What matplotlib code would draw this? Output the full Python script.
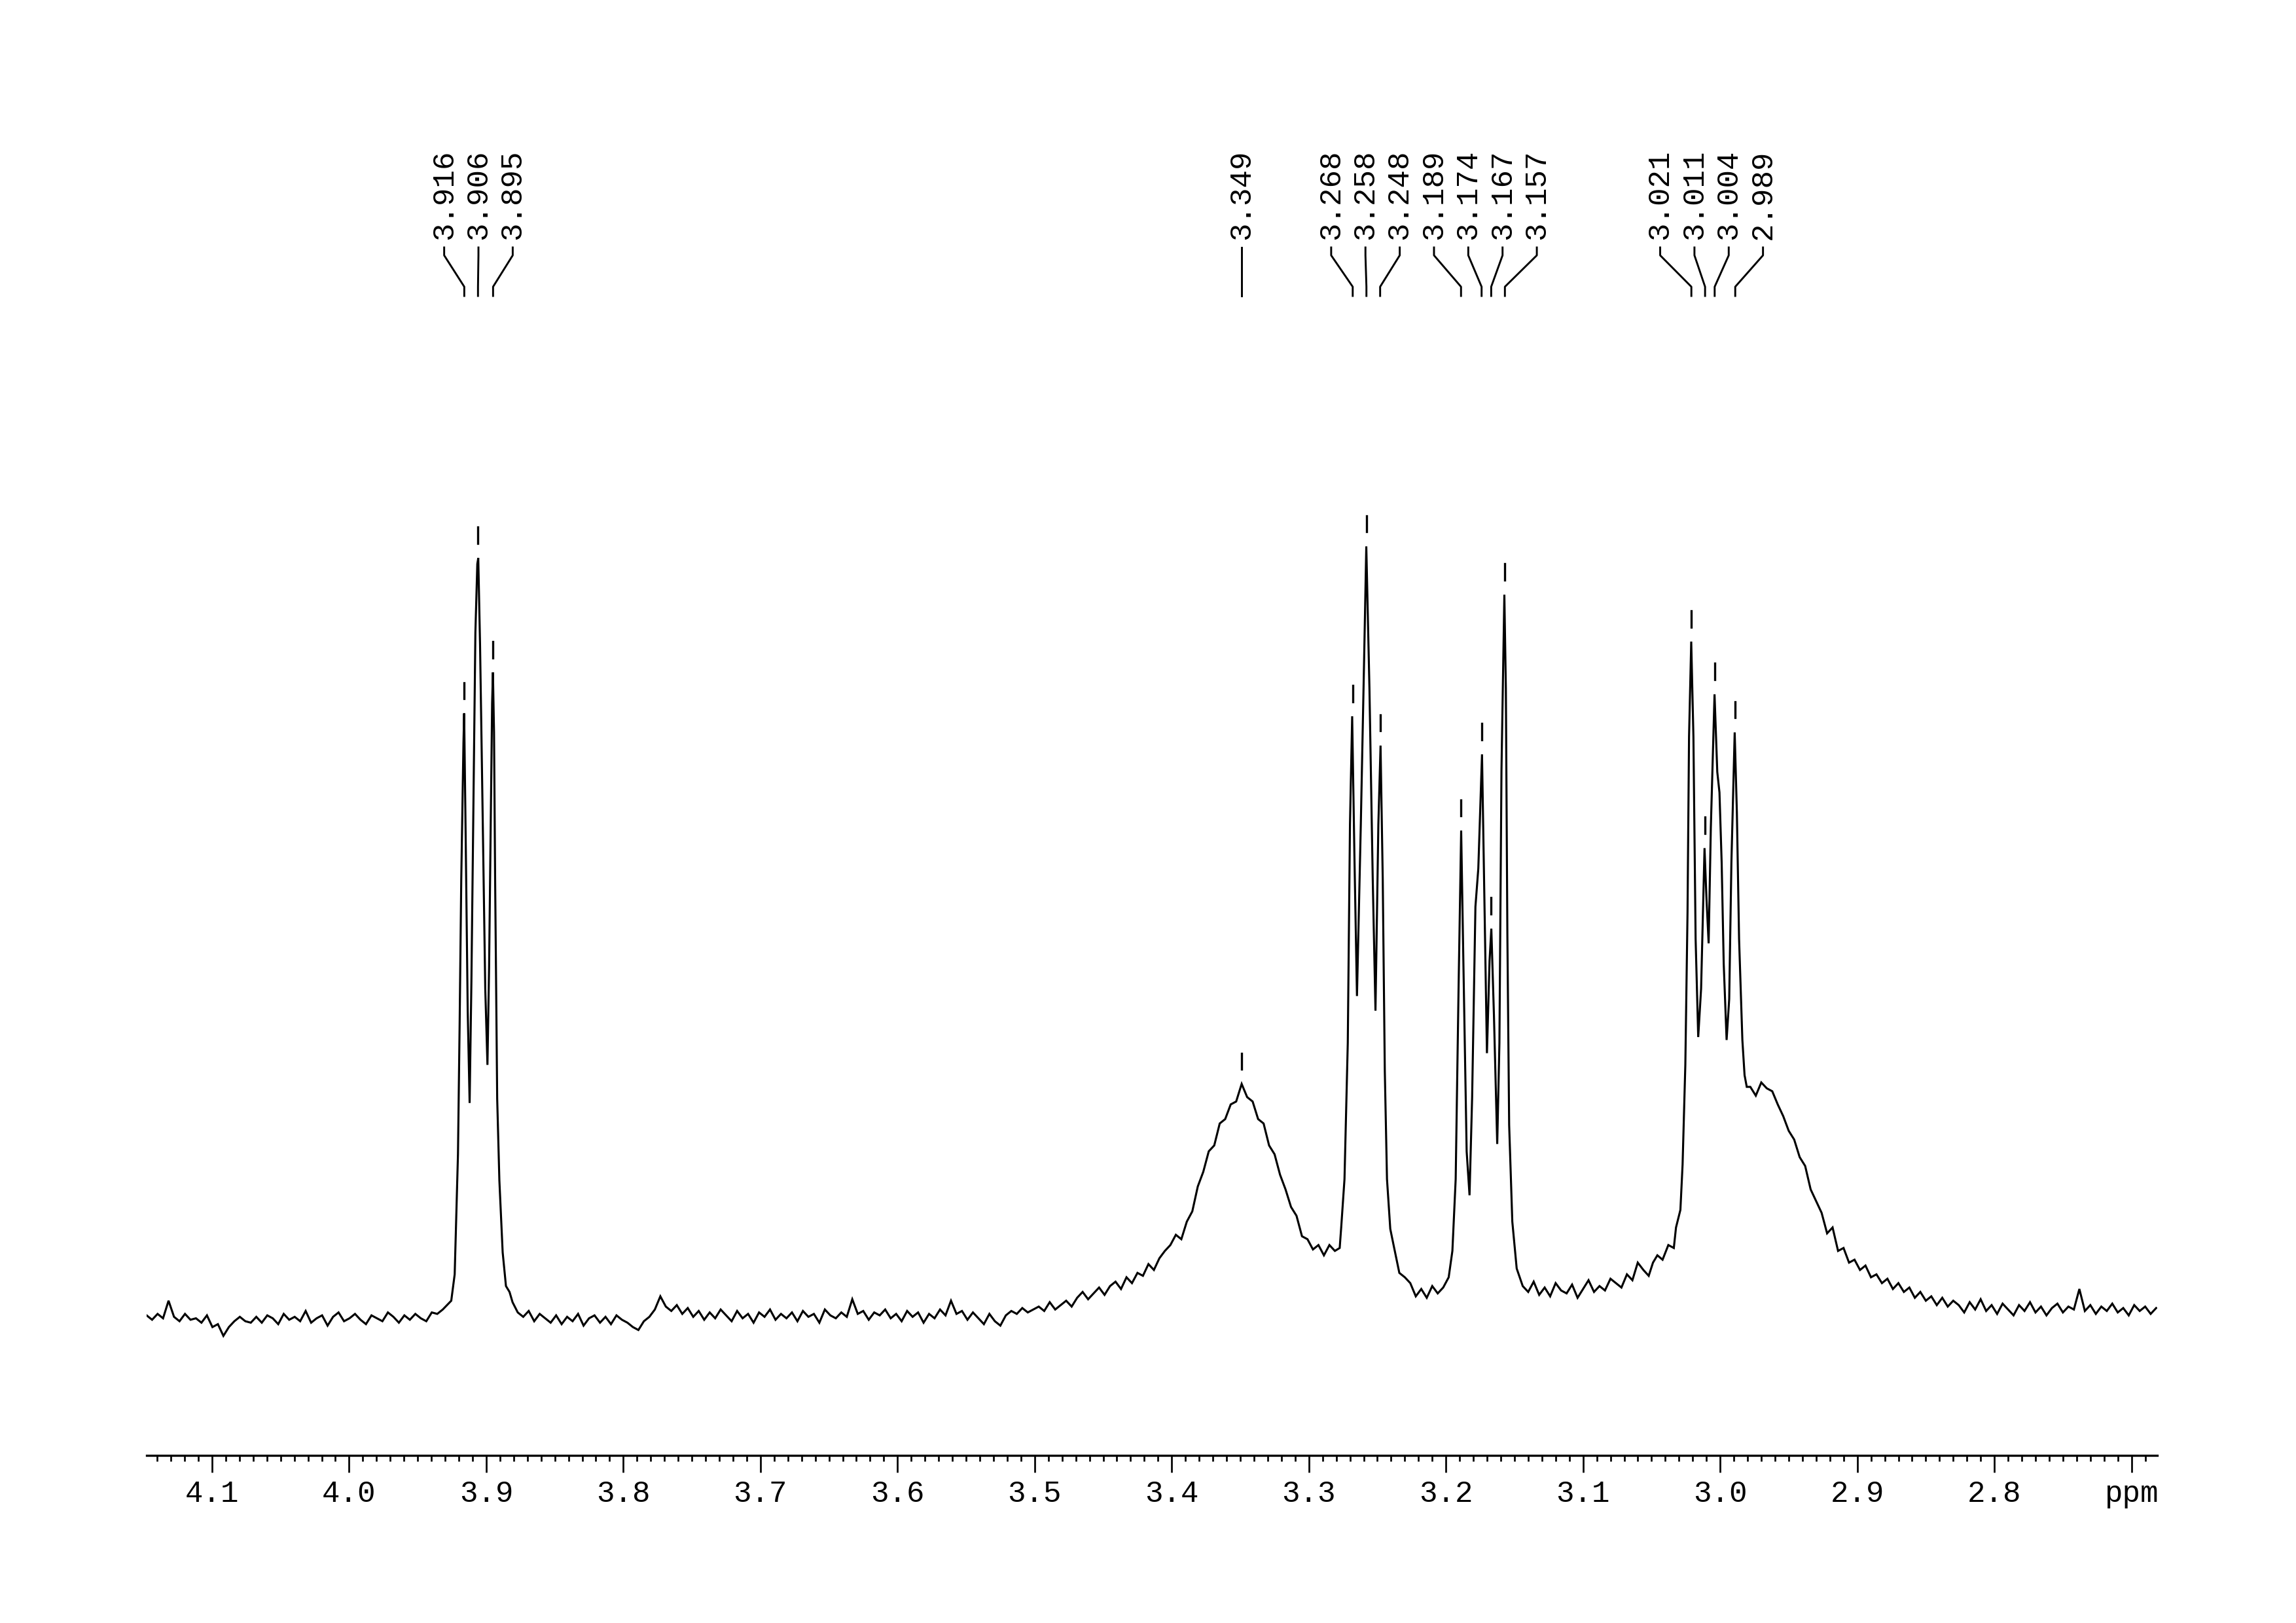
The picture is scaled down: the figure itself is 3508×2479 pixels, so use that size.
import matplotlib
matplotlib.use("Agg")
import matplotlib.pyplot as plt
import matplotlib.transforms as mtransforms
from matplotlib.ticker import MultipleLocator
import numpy as np

plt.rcParams['font.family'] = ['Liberation Mono', 'DejaVu Sans Mono']

# ---- spectrum (ppm, intensity; baseline ~ 0) ----
# noisy stretches: (start ppm, end ppm) + values sampled evenly between them
base_a_range = (4.1477, 3.9317)
base_a = [2, -1, 3, 0, 12, 1, -2, 3, -1, 0, -3, 2, -6, -4, -12, -6, -2, 1, -2, -3,
          1, -3, 2, 0, -4, 3, -1, 1, -2, 5, -3, 0, 2, -5, 1, 4, -2, 0, 3, -1,
          -4, 2, 0, -2, 4, 1, -3, 2, -1, 3, 0, -2, 4, 3, 6]

trip1_ppm = [3.9255, 3.9230, 3.9206, 3.9194, 3.9182, 3.9166, 3.9161, 3.9150, 3.9135, 3.9121,
             3.9108, 3.9095, 3.9079, 3.9065, 3.9058, 3.9045, 3.9031, 3.9007, 3.8991, 3.8979,
             3.8967, 3.8957, 3.8951, 3.8943, 3.8935, 3.8920, 3.8904, 3.8880, 3.8856, 3.8830, 3.8808]
trip1_int = [12, 30, 112, 200, 300, 393, 413, 330, 210, 147,
             230, 337, 468, 515, 519, 460, 375, 225, 173, 240,
             337, 420, 441, 400, 300, 150, 94, 45, 22, 18, 11]

base_b_range = (3.877, 3.501)
base_b = [4, 1, 5, -2, 3, 0, -3, 2, -4, 1,
          -2, 3, -5, 0, 2, -3, 1, -4, 2, -1,
          -3, -6, -8, -2, 1, 6, 15, 8, 5, 9,
          3, 7, 1, 5, -1, 4, 0, 6, 2, -2,
          5, 0, 3, -3, 4, 1, 6, -1, 3, 0,
          4, -2, 5, 1, 3, -3, 6, 2, 0, 4,
          1, 13, 3, 5, -1, 4, 2, 6, 0, 3,
          -2, 5, 1, 4, -3, 3, 0, 6, 2, 12,
          3, 5, -1, 4, 0, -4, 3, -2, -5, 2,
          5, 3, 7, 4, 6]

rise_range = (3.497, 3.405)
rise = [8, 5, 11, 6, 9, 12, 8, 14, 18, 13, 17, 21, 16, 22, 25, 20, 28, 24, 31, 29, 37, 33, 41, 46]

hump_range = (3.401, 3.281)
hump = [50, 57, 54, 66, 73, 90, 100, 114, 118, 133, 136, 146, 148, 160, 151, 148,
        136, 133, 118, 112, 98, 88, 76, 70, 56, 54, 47, 50, 43, 50, 46]

trip2_ppm = [3.2775, 3.2764, 3.2740, 3.2716, 3.2700, 3.2684, 3.2668, 3.2649, 3.2621, 3.2597,
             3.2581, 3.2558, 3.2534, 3.2514, 3.2493, 3.2477, 3.2461, 3.2446, 3.2430, 3.2406, 3.2382]
trip2_int = [48, 62, 95, 188, 337, 411, 318, 220, 337, 449,
             527, 430, 300, 210, 337, 391, 300, 169, 95, 61, 50]

base_c_range = (3.234, 3.198)
base_c = [31, 28, 24, 15, 20, 14, 22, 17, 21, 28]

mult1_ppm = [3.1953, 3.1929, 3.1908, 3.1889, 3.1873, 3.1849, 3.1828, 3.1809, 3.1785, 3.1764,
             3.1737, 3.1722, 3.1701, 3.1682, 3.1669, 3.1650, 3.1626, 3.1610, 3.1595, 3.1574,
             3.1563, 3.1552, 3.1539, 3.1516, 3.1484]
mult1_int = [46, 95, 225, 333, 244, 114, 84, 151, 281, 307,
             385, 300, 181, 244, 266, 207, 119, 188, 374, 494,
             430, 262, 132, 66, 34]

base_d_range = (3.144, 3.064)
base_d = [22, 18, 25, 16, 21, 15, 24, 19, 17, 23, 14, 20, 26, 18, 22, 19, 27, 24, 21, 30, 26]

mult2_ppm = [3.0601, 3.0560, 3.0521, 3.0490, 3.0458, 3.0420, 3.0378, 3.0338, 3.0322, 3.0290,
             3.0274, 3.0254, 3.0238, 3.0227, 3.0211, 3.0195, 3.0179, 3.0160, 3.0139, 3.0114,
             3.0100, 3.0084, 3.0068, 3.0041, 3.0021, 3.0005, 2.9989, 2.9974, 2.9953, 2.9934,
             2.9918, 2.9894, 2.9878, 2.9862, 2.9838, 2.9822, 2.9806]
mult2_int = [38, 33, 29, 38, 43, 40, 50, 48, 62, 74,
             105, 173, 277, 397, 462, 397, 259, 192, 225, 321,
             287, 256, 335, 426, 373, 359, 311, 242, 190, 218,
             311, 400, 345, 259, 190, 166, 158]

tail_range = (2.978, 2.682)
tail = [158, 152, 161, 157, 155, 146, 138, 128, 122, 110, 104, 88, 80, 72, 58, 62,
        46, 48, 38, 40, 33, 36, 28, 30, 24, 27, 20, 24, 18, 21, 14, 18, 12, 15, 9, 14, 8, 12,
        9, 4, 11, 6, 13, 5, 9, 3, 10, 6, 2, 9, 5, 11, 4, 8, 2, 7, 10, 4,
        8, 6, 20, 5, 9, 3, 8, 5, 10, 4, 7, 2, 9, 5, 8, 3, 7]

# picked peaks
peak_ppm = [3.916, 3.906, 3.895, 3.349, 3.268, 3.258, 3.248, 3.189, 3.174, 3.167,
            3.157, 3.021, 3.011, 3.004, 2.989]
peak_height = [413, 519, 441, 160, 411, 527, 391, 333, 385, 266,
               494, 462, 321, 426, 400]
peak_group = [0, 0, 0, 1, 2, 2, 2, 2, 2, 2, 2, 3, 3, 3, 3]

tick_vals = [4.1, 4.0, 3.9, 3.8, 3.7, 3.6, 3.5, 3.4, 3.3, 3.2, 3.1, 3.0, 2.9, 2.8, 2.7]
tick_labels = ["4.1", "4.0", "3.9", "3.8", "3.7", "3.6", "3.5", "3.4", "3.3", "3.2",
               "3.1", "3.0", "2.9", "2.8", "ppm"]


def even(rng, vals):
    return np.linspace(rng[0], rng[1], len(vals)), np.array(vals, float)


parts = [even(base_a_range, base_a), (np.array(trip1_ppm), np.array(trip1_int, float)),
         even(base_b_range, base_b), even(rise_range, rise), even(hump_range, hump),
         (np.array(trip2_ppm), np.array(trip2_int, float)), even(base_c_range, base_c),
         (np.array(mult1_ppm), np.array(mult1_int, float)), even(base_d_range, base_d),
         (np.array(mult2_ppm), np.array(mult2_int, float)), even(tail_range, tail)]
ppm = np.concatenate([p[0] for p in parts])
inten = np.concatenate([p[1] for p in parts])

# ---- figure: A4 landscape at 300 dpi ----
W, H = 3508, 2479
fig = plt.figure(figsize=(W / 300, H / 300), dpi=300)
ax_bottom, ax_top = 2223, 200          # pixel rows of the axes frame
ax = fig.add_axes([224 / W, (H - ax_bottom) / H, (3296 - 224) / W, (ax_bottom - ax_top) / H])

lw = 0.75
ax.plot(ppm, inten, color='black', lw=lw, solid_joinstyle='miter')
ax.set_xlim(4.1477, 2.6812)
ax.set_ylim(-93.6, 810.6)

for s in ['top', 'left', 'right']:
    ax.spines[s].set_visible(False)
ax.spines['bottom'].set_linewidth(0.8)
ax.set_yticks([])
ax.set_xticks(tick_vals)
ax.set_xticklabels(tick_labels)
ax.xaxis.set_minor_locator(MultipleLocator(0.01))
ax.tick_params(axis='x', which='major', direction='out', length=6.2, width=0.65,
               pad=2.6, labelsize=11)
ax.tick_params(axis='x', which='minor', direction='out', length=2.2, width=0.65)

# peak dashes above each picked maximum
for p, h in zip(peak_ppm, peak_height):
    ax.plot([p, p], [h + 10, h + 21], color='black', lw=0.8)

# peak labels with leader lines
trans = mtransforms.blended_transform_factory(ax.transData, ax.transAxes)


def ya(ypix):
    return (ax_bottom - ypix) / (ax_bottom - ax_top)


spacing = 0.025
pk = np.array(peak_ppm)
grp = np.array(peak_group)
for g in np.unique(grp):
    idx = np.where(grp == g)[0]
    center = pk[idx].mean()
    n = len(idx)
    for k, i in enumerate(idx):
        lx = center + (n - 1) / 2 * spacing - k * spacing
        ax.plot([lx, lx, pk[i], pk[i]], [ya(378), ya(390), ya(438), ya(452)],
                color='black', lw=0.7, transform=trans, clip_on=False)
        ax.text(lx, ya(366), f"{peak_ppm[i]:.3f}", rotation=90, ha='center', va='bottom',
                fontsize=11, transform=trans)

fig.savefig("out.png", dpi=300)
